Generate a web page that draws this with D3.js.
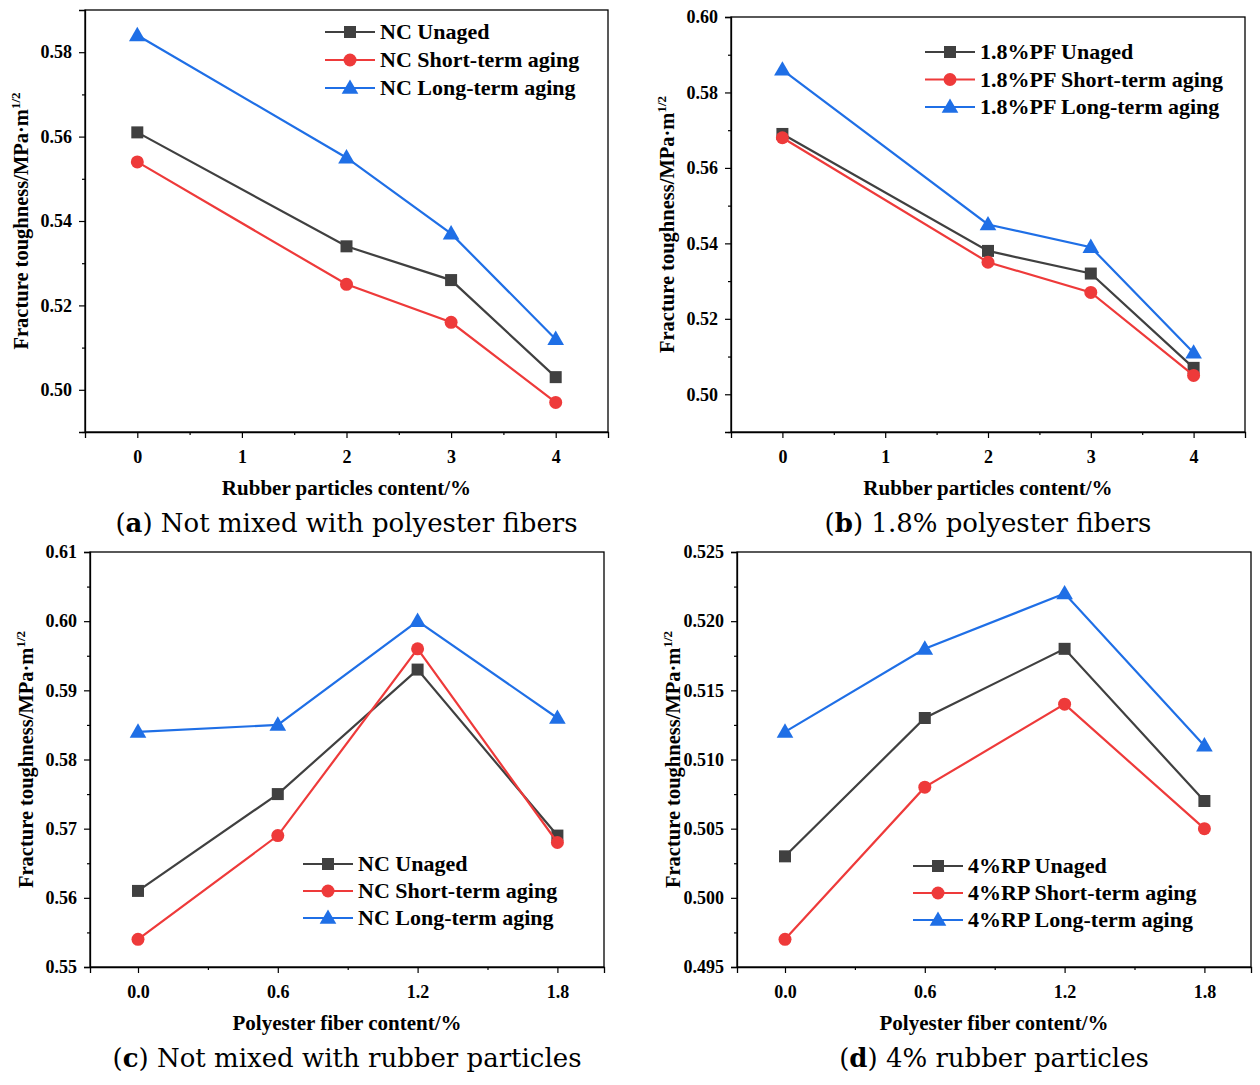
<!DOCTYPE html>
<html><head><meta charset="utf-8">
<script src="https://cdn.jsdelivr.net/npm/d3@7"></script>
<style>body{margin:0;background:#fff}</style></head>
<body><svg id="c" width="1260" height="1085"></svg>
<script>
const xRubber=[0,2,3,4];
const xFiber=[0,0.6,1.2,1.8];
const aUnaged=[0.561,0.534,0.526,0.503], aShort=[0.554,0.525,0.516,0.497], aLong=[0.584,0.555,0.537,0.512];
const bUnaged=[0.569,0.538,0.532,0.507], bShort=[0.568,0.535,0.527,0.505], bLong=[0.586,0.545,0.539,0.511];
const cUnaged=[0.561,0.575,0.593,0.569], cShort=[0.554,0.569,0.596,0.568], cLong=[0.584,0.585,0.600,0.586];
const dUnaged=[0.503,0.513,0.518,0.507], dShort=[0.497,0.508,0.514,0.505], dLong=[0.512,0.518,0.522,0.511];
const legA=["NC Unaged","NC Short-term aging","NC Long-term aging"];
const legB=["1.8%PF Unaged","1.8%PF Short-term aging","1.8%PF Long-term aging"];
const legD=["4%RP Unaged","4%RP Short-term aging","4%RP Long-term aging"];
const colors=["#404040","#ee3a3a","#1f6fe6"];
const svg=d3.select("#c");
const F="'Liberation Serif','Times New Roman',serif";
function panel(o){
  const g=svg.append("g");
  const x=d3.scaleLinear().domain(o.xd).range([o.l,o.r]);
  const y=d3.scaleLinear().domain(o.yd).range([o.b,o.t]);
  g.append("rect").attr("x",o.l).attr("y",o.t).attr("width",o.r-o.l).attr("height",o.b-o.t).attr("fill","none").attr("stroke","#000").attr("stroke-width",1.3);
  const yax=g.append("g").attr("transform",`translate(${o.l},0)`).call(d3.axisLeft(y).tickValues(o.yt).tickFormat(o.yf).tickSize(6));
  g.append("g").attr("transform",`translate(${o.l},0)`).call(d3.axisLeft(y).tickValues(o.ym).tickFormat("").tickSize(3)).select(".domain").remove();
  const xax=g.append("g").attr("transform",`translate(0,${o.b})`).call(d3.axisBottom(x).tickValues(o.xt).tickFormat(o.xf).tickSize(6));
  g.append("g").attr("transform",`translate(0,${o.b})`).call(d3.axisBottom(x).tickValues(o.xm).tickFormat("").tickSize(3)).select(".domain").remove();
  g.selectAll("g").attr("font-family",F).attr("font-size",18);
  g.selectAll(".tick text").style("font-family",F).style("font-weight","bold").style("font-size","18px").attr("fill","#000");
  g.selectAll(".tick line").attr("stroke-width",1.2);
  g.selectAll(".domain").attr("stroke-width",1.3);
  yax.selectAll(".tick text").attr("dx",-4);
  xax.selectAll(".tick text").attr("dy","1.2em");
  const cx=(o.l+o.r)/2, cy=(o.t+o.b)/2;
  g.append("text").attr("x",cx).attr("y",o.b+63).attr("text-anchor","middle").attr("font-family",F).attr("font-weight","bold").attr("font-size",21).text(o.xl);
  const yl=g.append("text").attr("transform",`translate(${o.l-57},${cy}) rotate(-90)`).attr("text-anchor","middle").attr("font-family",F).attr("font-weight","bold").attr("font-size",20.5);
  yl.append("tspan").text("Fracture toughness/MPa·m");
  yl.append("tspan").attr("dy",-8).attr("font-size",13).text("1/2");
  const cap=g.append("text").attr("x",cx).attr("y",o.b+100).attr("text-anchor","middle").attr("font-family","'DejaVu Serif',serif").attr("font-size",26);
  cap.append("tspan").text("(");cap.append("tspan").attr("font-weight","bold").text(o.letter);cap.append("tspan").text(") "+o.cap);
  const line=d3.line().x((d,i)=>x(o.xs[i])).y(d=>y(d));
  o.series.forEach((s,k)=>{
    g.append("path").attr("d",line(s)).attr("fill","none").attr("stroke",colors[k]).attr("stroke-width",2.2);
    s.forEach((v,i)=>mark(g,k,x(o.xs[i]),y(v)));
  });
  o.leg.forEach((t,k)=>{
    const ly=o.ly+k*o.ldy;
    g.append("line").attr("x1",o.lx).attr("x2",o.lx+50).attr("y1",ly).attr("y2",ly).attr("stroke",colors[k]).attr("stroke-width",2.2);
    mark(g,k,o.lx+25,ly);
    g.append("text").attr("x",o.lx+55).attr("y",ly+7).attr("font-family",F).attr("font-weight","bold").attr("font-size",22).text(t);
  });
}
function mark(g,k,cx,cy){
  if(k===0) g.append("rect").attr("x",cx-6).attr("y",cy-6).attr("width",12).attr("height",12).attr("fill",colors[0]);
  else if(k===1) g.append("circle").attr("cx",cx).attr("cy",cy).attr("r",6.5).attr("fill",colors[1]);
  else g.append("path").attr("d",d3.symbol(d3.symbolTriangle,120)()).attr("transform",`translate(${cx},${cy+1})`).attr("fill",colors[2]);
}
const f2=d3.format(".2f"), f3=d3.format(".3f"), f1=d3.format(".1f"), f0=d3.format("d");
panel({l:85,r:608,t:10,b:432,xd:[-0.5,4.5],yd:[0.49,0.59],xt:[0,1,2,3,4],xm:[0.5,1.5,2.5,3.5],xf:f0,
  yt:[0.50,0.52,0.54,0.56,0.58],ym:[0.49,0.51,0.53,0.55,0.57],yf:f2,xs:xRubber,series:[aUnaged,aShort,aLong],
  leg:legA,lx:325,ly:32,ldy:28,xl:"Rubber particles content/%",letter:"a",cap:"Not mixed with polyester fibers"});
panel({l:731,r:1245,t:17,b:432,xd:[-0.5,4.5],yd:[0.49,0.60],xt:[0,1,2,3,4],xm:[0.5,1.5,2.5,3.5],xf:f0,
  yt:[0.50,0.52,0.54,0.56,0.58,0.60],ym:[0.49,0.51,0.53,0.55,0.57,0.59],yf:f2,xs:xRubber,series:[bUnaged,bShort,bLong],
  leg:legB,lx:925,ly:52,ldy:27.5,xl:"Rubber particles content/%",letter:"b",cap:"1.8% polyester fibers"});
panel({l:90,r:604,t:552,b:967,xd:[-0.206,2.0],yd:[0.55,0.61],xt:xFiber,xm:[0.3,0.9,1.5],xf:f1,
  yt:[0.55,0.56,0.57,0.58,0.59,0.60,0.61],ym:[0.555,0.565,0.575,0.585,0.595,0.605],yf:f2,xs:xFiber,series:[cUnaged,cShort,cLong],
  leg:legA,lx:303,ly:864,ldy:27,xl:"Polyester fiber content/%",letter:"c",cap:"Not mixed with rubber particles"});
panel({l:737,r:1251,t:552,b:967,xd:[-0.206,2.0],yd:[0.495,0.525],xt:xFiber,xm:[0.3,0.9,1.5],xf:f1,
  yt:[0.495,0.500,0.505,0.510,0.515,0.520,0.525],ym:[0.4975,0.5025,0.5075,0.5125,0.5175,0.5225],yf:f3,xs:xFiber,series:[dUnaged,dShort,dLong],
  leg:legD,lx:913,ly:866,ldy:27,xl:"Polyester fiber content/%",letter:"d",cap:"4% rubber particles"});
</script></body></html>
